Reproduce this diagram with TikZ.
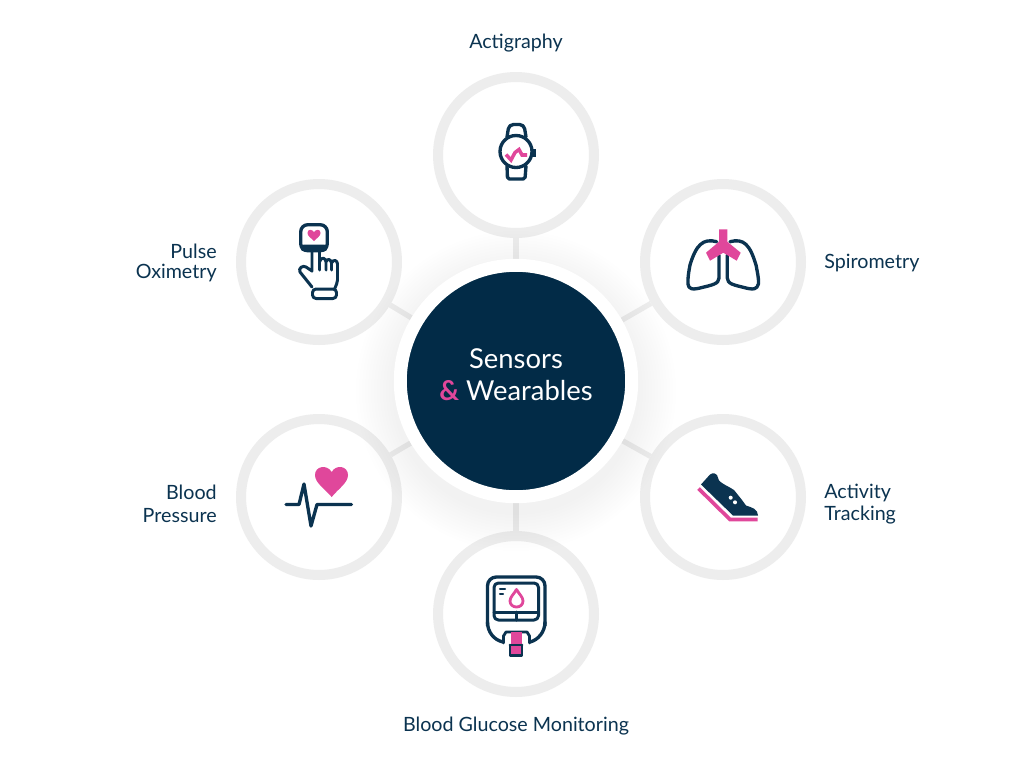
\documentclass[tikz,border=0pt]{standalone}
\usepackage{fontspec}
\setmainfont{Lato}
\usetikzlibrary{backgrounds}
\definecolor{navy}{HTML}{0B3350}
\definecolor{hub}{HTML}{022B47}
\definecolor{pinkish}{HTML}{E0479B}
\definecolor{ringgray}{HTML}{EDEDED}
\tikzset{
  x=0.02cm,y=-0.02cm,
  satellite/.style={circle,draw=ringgray,line width=5.7pt,fill=white,minimum size=3.12cm,inner sep=0pt},
  hubnode/.style={circle,draw=white,line width=7.4pt,fill=hub,minimum size=4.63cm,inner sep=0pt},
  hubtext/.style={text=white,font=\fontsize{15.6}{18.2}\selectfont,align=center,inner sep=0pt},
  spoke/.style={draw=ringgray,line width=3pt},
  lbl/.style={text=navy,font=\fontsize{11.2}{13}\selectfont,inner sep=0pt},
  lbltight/.style={text=navy,font=\fontsize{11.2}{11.4}\selectfont,inner sep=0pt},
  icon/.style={draw=navy,line width=1.9pt,line join=round,line cap=round},
}
\begin{document}
\begin{tikzpicture}
\useasboundingbox (0,0) rectangle (1024,768);
% satellites
\node[satellite] (acti) at (516,155) {};
\node[satellite] (spiro) at (723,262) {};
\node[satellite] (track) at (723,497) {};
\node[satellite] (gluco) at (516,614) {};
\node[satellite] (press) at (319,497) {};
\node[satellite] (pulse) at (319,262) {};
% soft shadow of the hub
\foreach \r in {124,127,...,160}
  \fill[black,opacity=0.0045] (516,391) circle[radius=\r];
\node[hubnode] (hub) at (516,381) {};
\node[hubtext] (hubt) at (516,374.5) {Sensors\\{\color{pinkish}\textbf{\&}} Wearables};
\begin{scope}[on background layer]
\fill[white] (0,0) rectangle (1024,768);
\foreach \s in {acti,spiro,track,gluco,press,pulse}
  \draw[spoke] (hub) -- (\s);
\end{scope}
% labels
\node[lbl] (lacti) at (516,43) {Actigraphy};
\node[lbl,anchor=west] (lspiro) at (824,263) {Spirometry};
\node[lbl,anchor=west,align=left] (ltrack) at (824,504) {Activity\\Tracking};
\node[lbl] (lgluco) at (516,726) {Blood Glucose Monitoring};
\node[lbl,anchor=east,align=right] (lpress) at (217,504) {Blood\\Pressure};
\node[lbltight,anchor=east,align=right] (lpulse) at (217,262.5) {Pulse\\Oximetry};
% watch icon
\draw[icon] (516,151.5) circle[radius=16];
\draw[icon,rounded corners=2.5pt] (507,137) -- (509,124.5) -- (524,124.5) -- (526,137);
\draw[icon,rounded corners=1pt] (507,166) -- (507.5,179) -- (525,179) -- (526,166);
\fill[navy] (533,148.5) rectangle (535.5,157);
\draw[pinkish,line width=2pt,line join=miter] (506,154.5) -- (511,160) -- (515,152.5) -- (519,149.5) -- (522,155) -- (527,155);
% lungs icon
\draw[icon] (716.7,241.7) .. controls (703,238) and (696,245) .. (690,265) .. controls (688,275) and (687,285) .. (689,287) .. controls (692,290) and (695,289) .. (700,288) .. controls (712,285) and (719,284) .. (719,278) -- (719,255);
\draw[icon] (730,241.7) .. controls (744,238) and (750,245) .. (756,265) .. controls (758,275) and (760,285) .. (757,287) .. controls (754,290) and (751,289) .. (746,288) .. controls (734,285) and (727.3,284) .. (727.3,278) -- (727.3,255);
\fill[pinkish] (719,229.3) -- (727.3,229.3) -- (727.3,241.7) -- (740.7,252.7) -- (736.7,260.7) -- (723.3,252.7) -- (710,260.7) -- (706,252.7) -- (719,241.7) -- cycle;
% shoe icon
\fill[navy] (701,484.5) -- (710,474.5) .. controls (713,472.5) and (716,473) .. (717,475) -- (719,480.5) .. controls (722,484) and (728,486) .. (734,490) -- (742,500) -- (746,505.5) .. controls (752,507.5) and (758,509) .. (758,515.5) -- (733,515.5) -- cycle;
\draw[pinkish,line width=2.1pt] (698.5,488.5) -- (730,519.5) -- (757.5,519.5);
\fill[white] (730.7,497.7) circle[radius=2] (735,502.3) circle[radius=2];
% glucose icon
\draw[icon,rounded corners=5pt] (487.5,640) -- (487.5,577) -- (545,577) -- (545,640);
\fill[white] (484,626) rectangle (548,645);
\draw[icon] (487.5,622) .. controls (487.5,632) and (494,640) .. (503,642);
\draw[icon] (545,622) .. controls (545,632) and (538,640) .. (530,642);
\draw[icon,line width=1.7pt,rounded corners=2.5pt] (494,583) rectangle (538.5,620);
\draw[icon,line width=1.7pt] (494,612) -- (538.5,612) (516.5,612) -- (516.5,620);
\draw[pinkish,line width=1.6pt,line join=round] (516.5,589.5) .. controls (514,594) and (510,597) .. (510,601) .. controls (510,604.5) and (512.8,607) .. (516.5,607) .. controls (520.2,607) and (523,604.5) .. (523,601) .. controls (523,597) and (519,594) .. cycle;
\draw[icon,line width=1.2pt] (500,589) -- (505,589) (500,594) -- (503,594);
\draw[icon,line width=1.6pt] (503.5,643) -- (503.5,636) -- (506,632) -- (527,632) -- (529.5,636) -- (529.5,643);
\fill[pinkish] (510.5,632) rectangle (521.5,655);
\draw[icon,line width=1.6pt] (510,645) -- (510,655.5) -- (522,655.5) -- (522,645);
\draw[icon,line width=1.6pt] (510,645) -- (522,645);
% blood pressure icon
\fill[pinkish] (331.7,497) .. controls (325,489) and (315,483) .. (315,475) .. controls (315,466) and (327,464) .. (331.7,472) .. controls (336,464) and (348,466) .. (348,475) .. controls (348,483) and (338,489) .. (331.7,497) -- cycle;
\draw[icon] (286,504.5) -- (299,504.5) -- (304,484) -- (311,526) -- (317,504.5) -- (351.5,504.5);
% pulse oximetry icon
\fill[navy,rounded corners=2pt] (300.5,244.5) rectangle (327.5,251.5);
\draw[icon,rounded corners=4pt] (300.7,224.7) rectangle (327.3,250.7);
\fill[pinkish] (314,241) .. controls (311,238) and (307.5,236) .. (307.5,233) .. controls (307.5,229) and (312,229) .. (314,232) .. controls (316,229) and (320.5,229) .. (320.5,233) .. controls (320.5,236) and (317,238) .. cycle;
\draw[icon,line width=1.7pt] (312,251) -- (312,271) -- (306,267) .. controls (303,265) and (298,268) .. (300,272) -- (312,287);
\draw[icon,line width=1.7pt] (319.5,251) -- (319.5,270) (319.5,262) .. controls (321,256) and (326,258) .. (326,262) -- (326,270) (326,262) .. controls (327,258) and (331,259) .. (331.5,263) -- (331.5,270) (331.5,263) .. controls (333,259) and (337.5,260) .. (337.5,264) -- (337.5,280) .. controls (337.5,283) and (336,285) .. (335,288);
\draw[icon,line width=1.7pt,rounded corners=2pt] (312.5,289) rectangle (336.5,298.5);
\end{tikzpicture}
\end{document}
